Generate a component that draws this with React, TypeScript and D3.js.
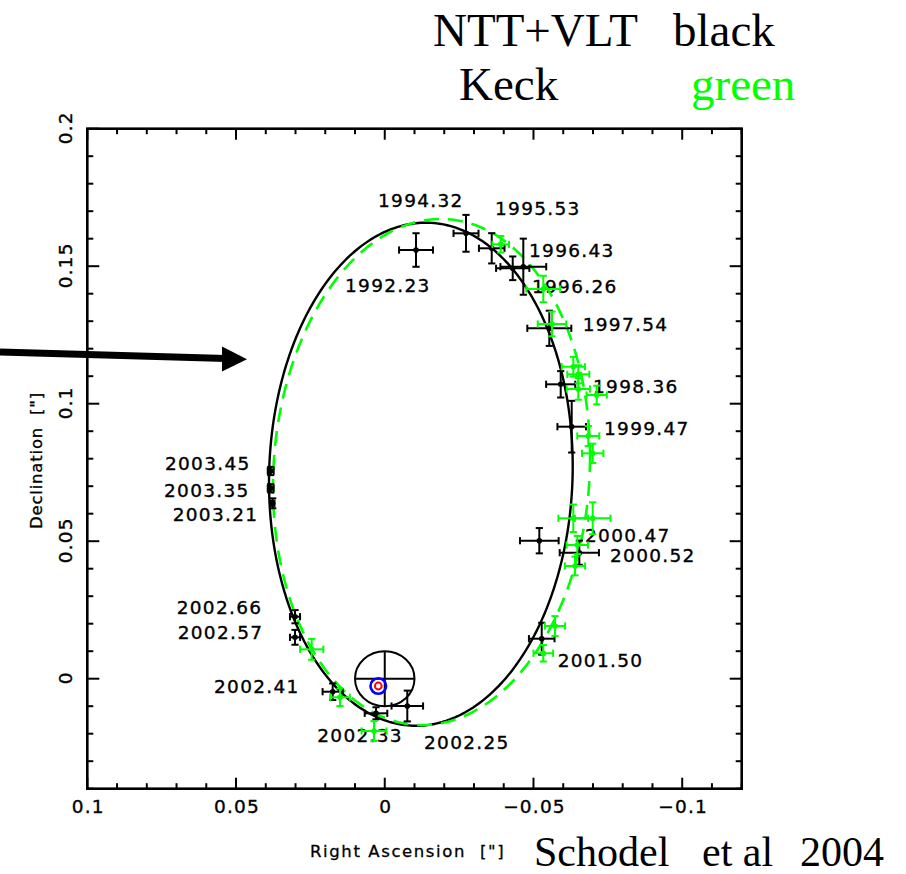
import React from "react";
import * as d3 from "d3";

const W = 906;
const H = 874;

// NTT + VLT astrometry of S2 (offsets from Sgr A*, arcsec) with 1-sigma errors
const nttRA = [-0.01051, -0.02732, -0.03596, -0.04302, -0.04658, -0.05532, -0.05915, -0.06285, -0.05196, -0.06541, -0.05277, -0.00758, 0.00294, 0.0175, 0.03017, 0.03017, 0.03834, 0.03834, 0.03767];
const nttDec = [0.15589, 0.16196, 0.15651, 0.14924, 0.14982, 0.12742, 0.10705, 0.09164, 0.05018, 0.04582, 0.01455, -0.00993, -0.01258, -0.00473, 0.01505, 0.02255, 0.07553, 0.06924, 0.06378];
const nttErrRA = [0.0057, 0.0042, 0.0043, 0.0056, 0.0077, 0.0074, 0.0049, 0.0048, 0.0065, 0.0066, 0.0043, 0.0053, 0.0038, 0.0034, 0.0017, 0.0017, 0.001, 0.001, 0.0006];
const nttErrDec = [0.0061, 0.0067, 0.0055, 0.0043, 0.0102, 0.0064, 0.0048, 0.0094, 0.0046, 0.0044, 0.0058, 0.0056, 0.0022, 0.003, 0.0027, 0.0024, 0.0015, 0.0015, 0.0018];

// Keck astrometry of S2
const keckRA = [-0.03898, -0.0533, -0.05623, -0.06339, -0.06507, -0.06507, -0.07126, -0.06843, -0.06991, -0.06339, -0.06991, -0.06473, -0.06396, -0.05724, -0.0533, 0.00361, 0.01504, 0.02456];
const keckDec = [0.15796, 0.14171, 0.12898, 0.11345, 0.11069, 0.10535, 0.10316, 0.08825, 0.08196, 0.05833, 0.05833, 0.04862, 0.04098, 0.01916, 0.00924, -0.01902, -0.00676, 0.01069];
const keckErrRA = [0.0028, 0.0057, 0.0048, 0.0039, 0.0037, 0.0039, 0.0034, 0.0037, 0.0036, 0.005, 0.006, 0.0036, 0.0034, 0.0034, 0.0033, 0.0042, 0.0033, 0.0039];
const keckErrDec = [0.003, 0.0048, 0.0045, 0.0036, 0.0033, 0.0039, 0.0034, 0.0036, 0.0035, 0.005, 0.0058, 0.0033, 0.0034, 0.0036, 0.003, 0.0036, 0.0032, 0.0038];

// Epoch annotations (text start, baseline) in sky offsets
const epochText = ["1994.32", "1995.53", "1996.43", "1992.23", "1996.26", "1997.54", "1998.36", "1999.47", "2000.47", "2000.52", "2001.50", "2002.25", "2002.33", "2002.41", "2002.66", "2002.57", "2003.45", "2003.35", "2003.21"];
const epochRA = [0.00227, -0.03707, -0.0485, 0.01336, -0.0495, -0.06655, -0.07001, -0.07371, -0.06732, -0.07573, -0.05814, -0.0132, 0.02268, 0.0574, 0.06994, 0.06961, 0.07388, 0.07421, 0.07129];
const epochDec = [0.17153, 0.16862, 0.15335, 0.14062, 0.14025, 0.12655, 0.10389, 0.08862, 0.04982, 0.04255, 0.00425, -0.02556, -0.02291, -0.0052, 0.02353, 0.01444, 0.07589, 0.06607, 0.05745];

// Projected orbit fits: centre and two conjugate semi-diameters (arcsec)
const nttOrbitCenter = [-0.01214, 0.07436];
const nttOrbitU = [-0.05105, 0.00291];
const nttOrbitV = [0, -0.09142];
const keckOrbitCenter = [-0.01572, 0.07516];
const keckOrbitU = [-0.05329, 0.00545];
const keckOrbitV = [0, -0.09185];

// Sgr A* position, its 10 mas error circle and the dynamical centre
const sgrA = [0, 0];
const sgrARadius = 0.01;
const massCenter = [0.00217, -0.00265];

// Axis ticks
const xMajor = [0.1, 0.05, 0, -0.05, -0.1];
const xMajorLabels = ["0.1", "0.05", "0", "\u22120.05", "\u22120.1"];
const yMajor = [0, 0.05, 0.1, 0.15, 0.2];
const yMajorLabels = ["0", "0.05", "0.1", "0.15", "0.2"];

const x = d3.scaleLinear().domain([0.1, -0.12]).range([87.3, 741.7]);
const y = d3.scaleLinear().domain([-0.04, 0.2]).range([788.7, 128.7]);

const GREEN = "#00ff00";
const SANS = "'DejaVu Sans', sans-serif";
const SERIF = "'Liberation Serif', 'Times New Roman', serif";

function orbitPath(c: number[], u: number[], v: number[]) {
  const line = d3.line().curve(d3.curveLinearClosed);
  const pts = d3.range(0, 360, 1).map((deg) => {
    const t = (deg * Math.PI) / 180;
    return [
      x(c[0] + u[0] * Math.cos(t) + v[0] * Math.sin(t)),
      y(c[1] + u[1] * Math.cos(t) + v[1] * Math.sin(t)),
    ] as [number, number];
  });
  return line(pts) || "";
}

function ErrorPoints({ ra, dec, era, edec, color }: { ra: number[]; dec: number[]; era: number[]; edec: number[]; color: string }) {
  const cap = 3.6;
  return (
    <g stroke={color} fill={color} strokeWidth={2}>
      {ra.map((r, i) => {
        const cx = x(r);
        const cy = y(dec[i]);
        const x0 = x(r + era[i]);
        const x1 = x(r - era[i]);
        const y0 = y(dec[i] + edec[i]);
        const y1 = y(dec[i] - edec[i]);
        return (
          <g key={i}>
            <line x1={x0} x2={x1} y1={cy} y2={cy} />
            <line x1={cx} x2={cx} y1={y0} y2={y1} />
            <line x1={x0} x2={x0} y1={cy - cap} y2={cy + cap} />
            <line x1={x1} x2={x1} y1={cy - cap} y2={cy + cap} />
            <line x1={cx - cap} x2={cx + cap} y1={y0} y2={y0} />
            <line x1={cx - cap} x2={cx + cap} y1={y1} y2={y1} />
            <circle cx={cx} cy={cy} r={2.8} stroke="none" />
          </g>
        );
      })}
    </g>
  );
}

export default function App() {
  const [xl, xr] = x.range();
  const [yb, yt] = y.range();
  const xMinor = x.ticks(22);
  const yMinor = y.ticks(24);
  const major = 11;
  const minor = 5.5;

  return (
    <svg
      width={W}
      height={H}
      viewBox={`0 0 ${W} ${H}`}
      style={{ position: "absolute", left: 0, top: 0, background: "#fff" }}
    >
      {/* legend text */}
      <g fontFamily={SERIF} fontSize={47}>
        <text x={433} y={46}>NTT+VLT</text>
        <text x={673} y={46}>black</text>
        <text x={459} y={100}>Keck</text>
        <text x={691} y={100} fill={GREEN}>green</text>
      </g>

      {/* pointer arrow */}
      <line x1={0} y1={352} x2={226} y2={358.6} stroke="#000" strokeWidth={7} />
      <polygon points="247,359.3 222,346.5 222,371.5" fill="#000" />

      {/* frame and ticks */}
      <rect x={xl} y={yt} width={xr - xl} height={yb - yt} fill="none" stroke="#000" strokeWidth={2.6} />
      <g stroke="#000" strokeWidth={2}>
        {xMinor.map((t, i) => {
          const len = xMajor.some((m) => Math.abs(m - t) < 1e-9) ? major : minor;
          return (
            <g key={"xt" + i}>
              <line x1={x(t)} x2={x(t)} y1={yb} y2={yb - len} />
              <line x1={x(t)} x2={x(t)} y1={yt} y2={yt + len} />
            </g>
          );
        })}
        {yMinor.map((t, i) => {
          const len = yMajor.some((m) => Math.abs(m - t) < 1e-9) ? major + 1 : minor + 0.5;
          return (
            <g key={"yt" + i}>
              <line x1={xl} x2={xl + len} y1={y(t)} y2={y(t)} />
              <line x1={xr} x2={xr - len} y1={y(t)} y2={y(t)} />
            </g>
          );
        })}
      </g>

      {/* tick labels */}
      <g fontFamily={SANS} fontSize={18.5} letterSpacing={1.2} fill="#000" stroke="#000" strokeWidth={0.35}>
        {xMajor.map((t, i) => (
          <text key={"xl" + i} x={x(t) + 1} y={813} textAnchor="middle">
            {xMajorLabels[i]}
          </text>
        ))}
        {yMajor.map((t, i) => (
          <text key={"yl" + i} transform={`translate(72,${y(t) - 1}) rotate(-90)`} textAnchor="middle">
            {yMajorLabels[i]}
          </text>
        ))}
      </g>

      {/* axis titles */}
      <g fontFamily={SANS} fontSize={16.5} letterSpacing={0.8} fill="#000" stroke="#000" strokeWidth={0.3}>
        <text transform="translate(42,529) rotate(-90)">Declination</text>
        <text transform="translate(42,415) rotate(-90)">["]</text>
      </g>
      <g fontFamily={SANS} fontSize={16.5} letterSpacing={1.6} fill="#000" stroke="#000" strokeWidth={0.3}>
        <text x={310} y={857}>Right Ascension</text>
        <text x={480} y={857}>["]</text>
      </g>
      <g fontFamily={SERIF} fontSize={42} fill="#000">
        <text x={534} y={866}>Schodel</text>
        <text x={702} y={866}>et al</text>
        <text x={800} y={866}>2004</text>
      </g>

      {/* epoch labels */}
      <g fontFamily={SANS} fontSize={18.5} letterSpacing={1.3} fill="#000" stroke="#000" strokeWidth={0.35}>
        {epochText.map((s, i) => (
          <text key={"ep" + i} x={x(epochRA[i])} y={y(epochDec[i])}>
            {s}
          </text>
        ))}
      </g>

      {/* orbit fits */}
      <path d={orbitPath(nttOrbitCenter, nttOrbitU, nttOrbitV)} fill="none" stroke="#000" strokeWidth={2.4} />
      <path
        d={orbitPath(keckOrbitCenter, keckOrbitU, keckOrbitV)}
        fill="none"
        stroke={GREEN}
        strokeWidth={2.6}
        strokeDasharray="15 9"
      />

      {/* Sgr A* error circle with cross, and mass centre */}
      <ellipse
        cx={x(sgrA[0])}
        cy={y(sgrA[1])}
        rx={Math.abs(x(sgrARadius) - x(0))}
        ry={Math.abs(y(sgrARadius) - y(0))}
        fill="none"
        stroke="#000"
        strokeWidth={2}
      />
      <g stroke="#000" strokeWidth={2}>
        <line x1={x(sgrA[0] + sgrARadius)} x2={x(sgrA[0] - sgrARadius)} y1={y(sgrA[1])} y2={y(sgrA[1])} />
        <line x1={x(sgrA[0])} x2={x(sgrA[0])} y1={y(sgrA[1] + sgrARadius)} y2={y(sgrA[1] - sgrARadius)} />
      </g>
      <circle cx={x(massCenter[0])} cy={y(massCenter[1])} r={7.8} fill="none" stroke="#0000ff" strokeWidth={2.6} />
      <circle cx={x(massCenter[0])} cy={y(massCenter[1])} r={3.4} fill="none" stroke="#ff0000" strokeWidth={2} />

      {/* measurements */}
      <ErrorPoints ra={nttRA} dec={nttDec} era={nttErrRA} edec={nttErrDec} color="#000" />
      <ErrorPoints ra={keckRA} dec={keckDec} era={keckErrRA} edec={keckErrDec} color={GREEN} />
    </svg>
  );
}
